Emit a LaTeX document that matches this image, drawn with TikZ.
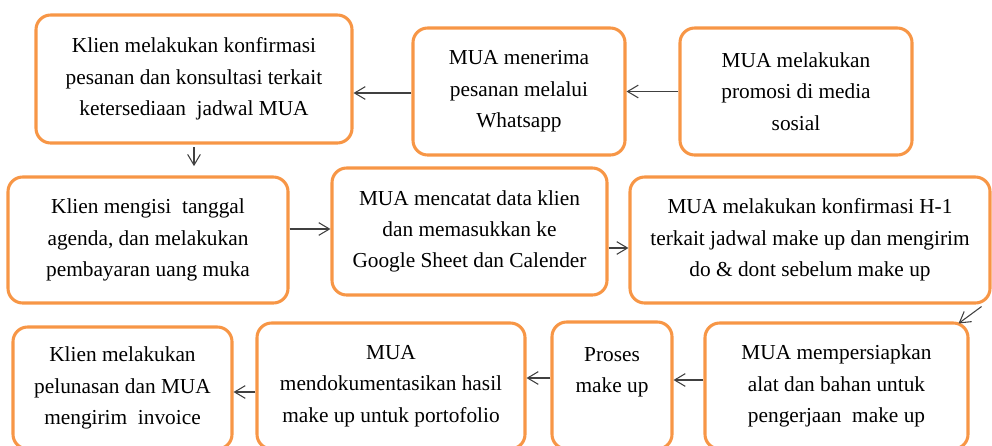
\documentclass[tikz,border=0pt]{standalone}
\usepackage{fontspec}
\setmainfont{Liberation Serif}
\usepackage{tikz}
\usepackage{xcolor}
\usetikzlibrary{arrows.meta, calc}
\definecolor{Oranye}{HTML}{F79646}
\definecolor{Panah}{HTML}{404040}

\begin{document}
\begin{tikzpicture}[x=0.75pt, y=-0.75pt, >=Stealth,
    langkah/.style={draw=Oranye, line width=2.3pt, rounded corners=11pt,
        align=center, inner sep=0pt, font=\fontsize{16}{23.5}\selectfont},
    panah/.style={-{Straight Barb[length=8pt, width=9.5pt]}, Panah, line width=0.8pt}]
    % Page
    \clip (0,0) rectangle (992,446);

    % Row 1
    \node[langkah, minimum width=316*0.75pt, minimum height=128*0.75pt] (konfirmasi) at (194,79)
        {Klien melakukan konfirmasi\\pesanan dan konsultasi terkait\\ketersediaan\ \ jadwal MUA};
    \node[langkah, minimum width=212*0.75pt, minimum height=127*0.75pt] (terima) at (519,91.5)
        {MUA menerima\\pesanan melalui\\Whatsapp};
    \node[langkah, minimum width=232*0.75pt, minimum height=127*0.75pt] (promosi) at (796,91.5)
        {MUA melakukan\\promosi di media\\sosial};

    % Row 2
    \node[langkah, minimum width=280*0.75pt, minimum height=126*0.75pt] (isi) at (148,240)
        {Klien mengisi\ \ tanggal\\agenda, dan melakukan\\pembayaran uang muka};
    \node[langkah, minimum width=275*0.75pt, minimum height=127*0.75pt] (catat) at (469.5,231.5)
        {MUA mencatat data klien\\dan memasukkan ke\\Google Sheet dan Calender};
    \node[langkah, minimum width=360*0.75pt, minimum height=126*0.75pt] (hmin) at (810,240)
        {MUA melakukan konfirmasi H-1\\terkait jadwal make up dan mengirim\\do \& dont sebelum make up};

    % Row 3 (cut off at the bottom)
    \node[langkah, minimum width=219*0.75pt, minimum height=122*0.75pt] (lunas) at (122.5,388)
        {Klien melakukan\\pelunasan dan MUA\\mengirim\ \ invoice};
    \node[langkah, minimum width=268*0.75pt, minimum height=126*0.75pt] (dokumen) at (391,386)
        {MUA\\mendokumentasikan hasil\\make up untuk portofolio};
    \node[langkah, minimum width=120*0.75pt, minimum height=127*0.75pt] (proses) at (612,385.5)
        {Proses\\make up\\{}};
    \node[langkah, minimum width=263*0.75pt, minimum height=126*0.75pt] (siap) at (836.5,386)
        {MUA mempersiapkan\\alat dan bahan untuk\\pengerjaan\ \ make up};

    % Arrow start points
    \coordinate (a1) at ($(terima.west)+(0,1.5)$);
    \coordinate (a2) at ($(isi.east)+(0,-11)$);
    \coordinate (a3) at ($(catat.east)+(0,16.5)$);
    \coordinate (a4) at ($(hmin.south east)+(-10,2)$);
    \coordinate (a5) at ($(siap.north east)+(-11,2)$);
    \coordinate (a6) at ($(siap.west)+(0,-6)$);
    \coordinate (a7) at ($(proses.west)+(0,-7.5)$);
    \coordinate (a8) at ($(dokumen.west)+(0,6)$);

    % Arrows
    \draw[panah] (promosi.west) -- (terima.east);
    \draw[panah] (a1) -- (a1 -| konfirmasi.east);
    \draw[panah, shorten <=2pt, shorten >=7pt] (konfirmasi.south) -- (konfirmasi.south |- isi.north);
    \draw[panah] (a2) -- (a2 -| catat.west);
    \draw[panah] (a3) -- (a3 -| hmin.west);
    \draw[panah] (a4) -- (a5);
    \draw[panah] (a6) -- (a6 -| proses.east);
    \draw[panah] (a7) -- (a7 -| dokumen.east);
    \draw[panah] (a8) -- (a8 -| lunas.east);
\end{tikzpicture}
\end{document}
